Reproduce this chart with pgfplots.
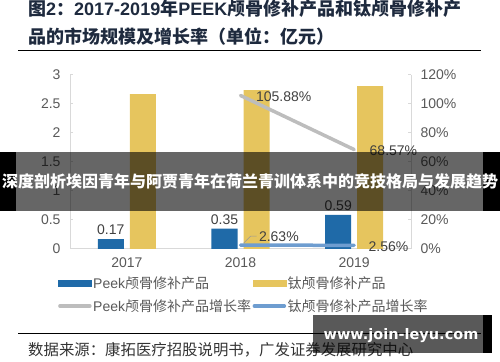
\documentclass[border=0pt]{standalone}
\usepackage{fontspec}
\usepackage{pgfplots}
\pgfplotsset{compat=1.18}
\setmainfont{Liberation Sans}
\newfontfamily\cjk{Noto Sans CJK SC}
\newfontfamily\wm{DejaVu Sans}
\newcommand{\C}[1]{{\cjk #1}}
\definecolor{peekblue}{HTML}{1F6AA8}
\definecolor{tiyellow}{HTML}{E6C55E}
\definecolor{peekgray}{HTML}{BDBDBD}
\definecolor{tiline}{HTML}{6E9DD0}
\definecolor{axisgray}{HTML}{D9D9D9}
\definecolor{tickgray}{HTML}{595959}
\definecolor{lblgray}{HTML}{404040}
\definecolor{titlecol}{HTML}{1E2A3E}
\begin{document}
\begin{tikzpicture}
\path[use as bounding box] (0,0) rectangle (500bp,362bp);
% title
\node[anchor=base west, inner sep=0, text=titlecol, font=\bfseries\fontsize{18bp}{20bp}\selectfont] at (28bp,346bp)
  {\C{图}2\C{：}2017-2019\C{年}PEEK\C{颅骨修补产品和钛颅骨修补产}};
\node[anchor=base west, inner sep=0, text=titlecol, font=\bfseries\fontsize{18bp}{20bp}\selectfont] at (28bp,318bp)
  {\C{品的市场规模及增长率（单位：亿元）}};
\draw[line width=1bp, black] (18bp,311bp) -- (481bp,311bp);

\begin{axis}[
  at={(70bp,113bp)}, anchor=south west,
  scale only axis, width=341bp, height=174bp,
  xmin=-0.5, xmax=2.5, ymin=0, ymax=3,
  axis y line*=left, axis x line*=bottom,
  axis line style={draw=axisgray, line width=1bp},
  xtick={0,1,2}, xticklabels={2017,2018,2019},
  x tick style={draw=none},
  ytick={0,0.5,1,1.5,2,2.5,3},
  yticklabels={0,0.5,1,1.5,2,2.5,3},
  y tick style={draw=axisgray, line width=1bp},
  tick align=inside, major tick length=3bp,
  ticklabel style={font=\fontsize{14bp}{16bp}\selectfont, text=tickgray},
  yticklabel style={xshift=-6bp},
  xticklabel style={yshift=-2bp},
  ybar=6bp, bar width=26bp,
  clip=false,
]
\addplot[fill=peekblue, draw=none, point meta=explicit symbolic,
  nodes near coords, nodes near coords style={font=\fontsize{14bp}{16bp}\selectfont, text=lblgray, yshift=1bp}]
  coordinates {(0,0.17) [0.17] (1,0.35) [0.35] (2,0.59) [0.59]};
\addplot[fill=tiyellow, draw=none] coordinates {(0,2.67) (1,2.74) (2,2.81)};
\end{axis}

\begin{axis}[
  at={(70bp,113bp)}, anchor=south west,
  scale only axis, width=341bp, height=174bp,
  xmin=-0.5, xmax=2.5, ymin=0, ymax=120,
  axis y line*=right, axis x line=none,
  axis line style={draw=axisgray, line width=1bp},
  ytick={0,20,40,60,80,100,120},
  yticklabels={0\%,20\%,40\%,60\%,80\%,100\%,120\%},
  y tick style={draw=axisgray, line width=1bp},
  tick align=inside, major tick length=3bp,
  ticklabel style={font=\fontsize{14bp}{16bp}\selectfont, text=tickgray},
  yticklabel style={xshift=6bp},
  clip=false,
  legend columns=2,
  legend cell align=left,
  legend style={at={(-0.044,-0.14)}, anchor=north west, draw=none, fill=none,
    font=\fontsize{14bp}{16bp}\selectfont, text=tickgray,
    nodes={inner sep=1.5bp},
    /tikz/every even column/.append style={column sep=0bp},
    row sep=6bp},
  legend entries={Peek\C{颅骨修补产品}, \C{钛颅骨修补产品}, Peek\C{颅骨修补产品增长率}, \C{钛颅骨修补产品增长率}},
]
\addlegendimage{legend image code/.code={\fill[peekblue] (0bp,-3bp) rectangle (33bp,3bp);}}
\addlegendimage{legend image code/.code={\fill[tiyellow] (0bp,-3bp) rectangle (33bp,3bp);}}
\addplot[peekgray, line width=3.5bp, line cap=round, mark=none,
  legend image code/.code={\draw[peekgray, line width=3.5bp, line cap=round] (1.5bp,0bp) -- (31.5bp,0bp);}]
  coordinates {(1,105.88) (2,68.57)};
\addplot[tiline, line width=3.5bp, line cap=round, mark=none,
  legend image code/.code={\draw[tiline, line width=3.5bp, line cap=round] (1.5bp,0bp) -- (31.5bp,0bp);}]
  coordinates {(1,2.63) (2,2.56)};
% data labels for growth rates
\addplot[draw=none, mark=none, forget plot, point meta=explicit symbolic, nodes near coords,
  nodes near coords style={anchor=west, xshift=12bp, yshift=-1bp, font=\fontsize{14bp}{16bp}\selectfont, text=lblgray}]
  coordinates {(1,105.88) [105.88\%] (2,68.57) [68.57\%]};
\addplot[draw=none, mark=none, forget plot, point meta=explicit symbolic, nodes near coords,
  nodes near coords style={anchor=west, xshift=15bp, yshift=9bp, font=\fontsize{14bp}{16bp}\selectfont, text=lblgray}]
  coordinates {(1,2.63) [2.63\%]};
\addplot[draw=none, mark=none, forget plot, point meta=explicit symbolic, nodes near coords,
  nodes near coords style={anchor=west, xshift=11bp, yshift=-1bp, font=\fontsize{14bp}{16bp}\selectfont, text=lblgray}]
  coordinates {(2,2.56) [2.56\%]};
\draw[peekgray!80!black, line width=0.6bp] ([xshift=3bp,yshift=2bp]axis cs:1,2.63) -- ++(7bp,7bp) -- ++(6bp,0bp);
\end{axis}

% source
\draw[line width=1bp, black] (18bp,28bp) -- (481bp,28bp);
\node[anchor=base west, inner sep=0, text=black!80, font=\cjk\fontsize{15.4bp}{17bp}\selectfont] at (28bp,7bp)
  {数据来源：康拓医疗招股说明书，广发证券发展研究中心};

% overlay banner
\fill[black, opacity=0.6] (16bp,151bp) rectangle (483bp,210bp);
\fill[black] (0bp,151bp) rectangle (16bp,210bp);
\fill[black] (483bp,151bp) rectangle (500bp,210bp);
\node[text=white, inner sep=0, font=\cjk\bfseries\fontsize{16bp}{18bp}\selectfont] at (250bp,180.5bp)
  {深度剖析埃因青年与阿贾青年在荷兰青训体系中的竞技格局与发展趋势};

% watermark
\fill[black, opacity=0.65] (313bp,9bp) rectangle (483bp,47bp);
\fill[black] (483bp,9bp) rectangle (492bp,47bp);
\node[text=white, inner sep=0, font=\wm\bfseries\fontsize{14.5bp}{16bp}\selectfont] at (401bp,26bp)
  {www.join-leyu.com};
\end{tikzpicture}
\end{document}
